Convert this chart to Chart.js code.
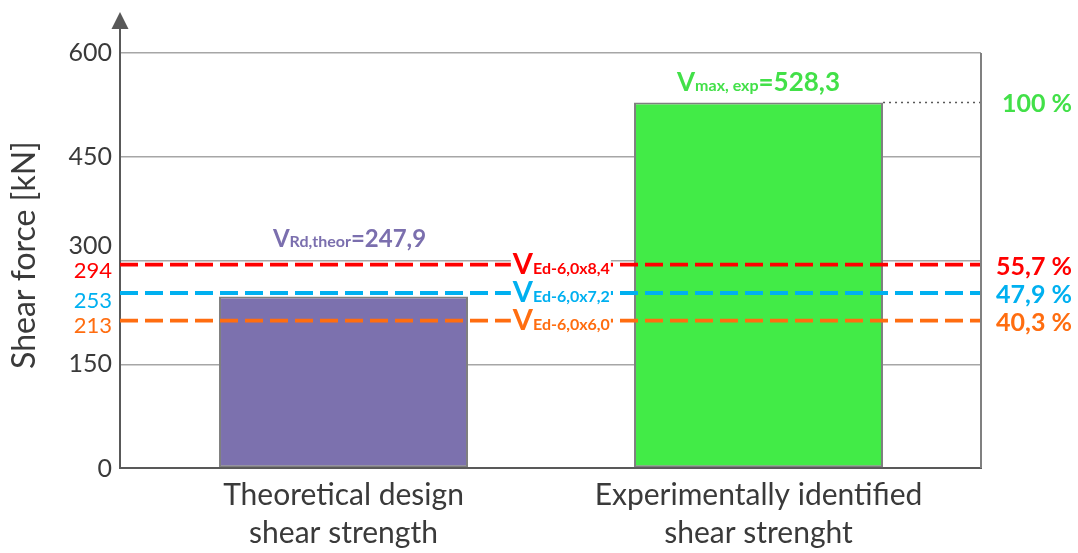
<!DOCTYPE html>
<html><head><meta charset="utf-8">
<script src="https://cdn.jsdelivr.net/npm/chart.js@4/dist/chart.umd.min.js"></script>
<style>html,body{margin:0;padding:0;background:#fff}#wrap{width:1078px;height:553px;position:relative}</style>
</head><body><div id="wrap"><canvas id="c"></canvas></div>
<script>
// ---- data ----
const categories = [["Theoretical design", "shear strength"], ["Experimentally identified", "shear strenght"]];
const barValues = [247.9, 528.3];
const barColors = ["#7c71ae", "#42eb47"];
const refValues = [294, 253, 213];
const refSubscripts = ["Ed-6,0x8,4", "Ed-6,0x7,2", "Ed-6,0x6,0"];
const refPercents = ["55,7 %", "47,9 %", "40,3 %"];
const refColors = ["#ff0000", "#00b0f0", "#ff6d10"];
const maxPercent = "100 %";
const yTickValues = [0, 150, 300, 450, 600];

// ---- layout constants ----
const XMIN = -0.5386, XMAX = 1.5361;
const BAR_FRACTION = 0.6;
const FONT = "Lato, 'Open Sans', sans-serif";
const TXT = "#3a3a3a";

function fmt(v){ return v.toFixed(1).replace('.', ','); }

function drawRich(ctx, parts, x, y, align){
  let w = 0;
  parts.forEach(p => { ctx.font = p.font; p.w = ctx.measureText(p.text).width; w += p.w; });
  let cx = align === 'center' ? x - w/2 : (align === 'right' ? x - w : x);
  ctx.textAlign = 'left'; ctx.textBaseline = 'alphabetic';
  parts.forEach(p => { ctx.font = p.font; ctx.fillStyle = p.color; ctx.fillText(p.text, cx, y); cx += p.w; });
  return w;
}

const decor = {
  id: 'decor',
  afterDraw(chart){
    const ctx = chart.ctx, xs = chart.scales.x, ys = chart.scales.y, a = chart.chartArea;
    ctx.save();
    // right frame line
    ctx.strokeStyle = '#808080'; ctx.lineWidth = 2;
    ctx.beginPath(); ctx.moveTo(a.right, a.top); ctx.lineTo(a.right, a.bottom); ctx.stroke();
    // axis arrow
    ctx.strokeStyle = '#595959'; ctx.lineWidth = 2;
    ctx.beginPath(); ctx.moveTo(a.left, a.top); ctx.lineTo(a.left, 26); ctx.stroke();
    ctx.fillStyle = '#595959';
    ctx.beginPath(); ctx.moveTo(a.left, 12); ctx.lineTo(a.left - 8.5, 29); ctx.lineTo(a.left + 8.5, 29); ctx.closePath(); ctx.fill();

    // y tick labels
    ctx.textAlign = 'right'; ctx.textBaseline = 'middle';
    ctx.font = "25px " + FONT; ctx.fillStyle = TXT;
    yTickValues.forEach(v => {
      const off = v === 300 ? -15 : (v === 0 ? 1 : 0);
      ctx.fillText(String(v), a.left - 8, ys.getPixelForValue(v) + off);
    });
    const leftOff = [6.5, 7.5, 5];
    ctx.font = "22px " + FONT;
    refValues.forEach((v, i) => {
      ctx.fillStyle = refColors[i];
      ctx.fillText(String(v), a.left - 8, ys.getPixelForValue(v) + leftOff[i]);
    });

    // labels on reference lines
    const lx = xs.getPixelForValue(0.408);
    refValues.forEach((v, i) => {
      const py = ys.getPixelForValue(v);
      const parts = [
        {text: 'V', font: "bold 29px " + FONT, color: refColors[i]},
        {text: refSubscripts[i], font: "bold 16px " + FONT, color: refColors[i]}
      ];
      let w = 0; parts.forEach(p => { ctx.font = p.font; w += ctx.measureText(p.text).width; });
      ctx.fillStyle = '#fff';
      ctx.fillRect(lx - 2, py - 12, w + 3, 21);
      drawRich(ctx, parts, lx, py + 9, 'left');
    });

    // right percent labels
    const rx = a.right + 91;
    ctx.textAlign = 'right'; ctx.textBaseline = 'middle'; ctx.font = "bold 25px " + FONT;
    refValues.forEach((v, i) => {
      ctx.fillStyle = refColors[i];
      ctx.fillText(refPercents[i], rx, ys.getPixelForValue(v) + 2);
    });
    ctx.fillStyle = '#42e048';
    ctx.fillText(maxPercent, rx, ys.getPixelForValue(barValues[1]) + 1.5);

    // bar annotations
    drawRich(ctx, [
      {text: 'V', font: "bold 24px " + FONT, color: '#7b6fae'},
      {text: 'Rd,theor', font: "bold 16px " + FONT, color: '#7b6fae'},
      {text: '=' + fmt(barValues[0]), font: "bold 24px " + FONT, color: '#7b6fae'}
    ], xs.getPixelForValue(0) + 6, ys.getPixelForValue(319.5), 'center');
    drawRich(ctx, [
      {text: 'V', font: "bold 26px " + FONT, color: '#42e048'},
      {text: 'max, exp', font: "bold 16px " + FONT, color: '#42e048'},
      {text: '=' + fmt(barValues[1]), font: "bold 26px " + FONT, color: '#42e048'}
    ], xs.getPixelForValue(1), ys.getPixelForValue(545), 'center');

    // category labels
    ctx.textAlign = 'center'; ctx.textBaseline = 'alphabetic';
    ctx.font = "30px " + FONT; ctx.fillStyle = TXT;
    categories.forEach((lines, i) => {
      const cx = xs.getPixelForValue(i);
      lines.forEach((t, j) => ctx.fillText(t, cx, a.bottom + 37 + j * 38));
    });

    // y title
    ctx.translate(25, 255); ctx.rotate(-Math.PI / 2);
    ctx.textAlign = 'center'; ctx.textBaseline = 'middle';
    ctx.font = "32px " + FONT; ctx.fillStyle = TXT;
    ctx.fillText("Shear force [kN]", 0, 0);
    ctx.restore();
  }
};

const datasets = [{
  type: 'bar',
  data: barValues.map((v, i) => ({x: i, y: v})),
  backgroundColor: barColors,
  borderColor: '#7f7f7f',
  borderWidth: 2,
  borderSkipped: false,
  categoryPercentage: BAR_FRACTION,
  barPercentage: 1,
  order: 2
}];
refValues.forEach((v, i) => datasets.push({
  type: 'line',
  data: [{x: XMIN, y: v}, {x: XMAX, y: v}],
  borderColor: refColors[i], borderWidth: 3.8, borderDash: [18, 7],
  pointRadius: 0, fill: false, order: 0
}));
datasets.push({
  type: 'line',
  data: [{x: 1 + BAR_FRACTION / 2, y: barValues[1]}, {x: XMAX, y: barValues[1]}],
  borderColor: '#595959', borderWidth: 1.5, borderDash: [2, 4],
  pointRadius: 0, fill: false, order: 1
});

new Chart(document.getElementById('c'), {
  type: 'bar',
  data: { datasets },
  options: {
    responsive: true, maintainAspectRatio: false, animation: false,
    layout: { padding: { left: 120, right: 97, top: 53, bottom: 85 } },
    plugins: { legend: { display: false }, tooltip: { enabled: false } },
    scales: {
      x: {
        type: 'linear', min: XMIN, max: XMAX, offset: false,
        afterBuildTicks: s => { s.ticks = [{value: 0}, {value: 1}]; },
        ticks: { display: false },
        grid: { display: false, drawTicks: false, offset: false },
        border: { display: true, color: '#595959', width: 2 }
      },
      y: {
        min: 0, max: 600,
        afterBuildTicks: s => { s.ticks = yTickValues.map(v => ({value: v})); },
        ticks: { display: false },
        grid: { color: '#a6a6a6', lineWidth: 1.5, drawTicks: false },
        border: { display: true, color: '#595959', width: 2 }
      }
    }
  },
  plugins: [decor]
});
</script>
</body></html>
